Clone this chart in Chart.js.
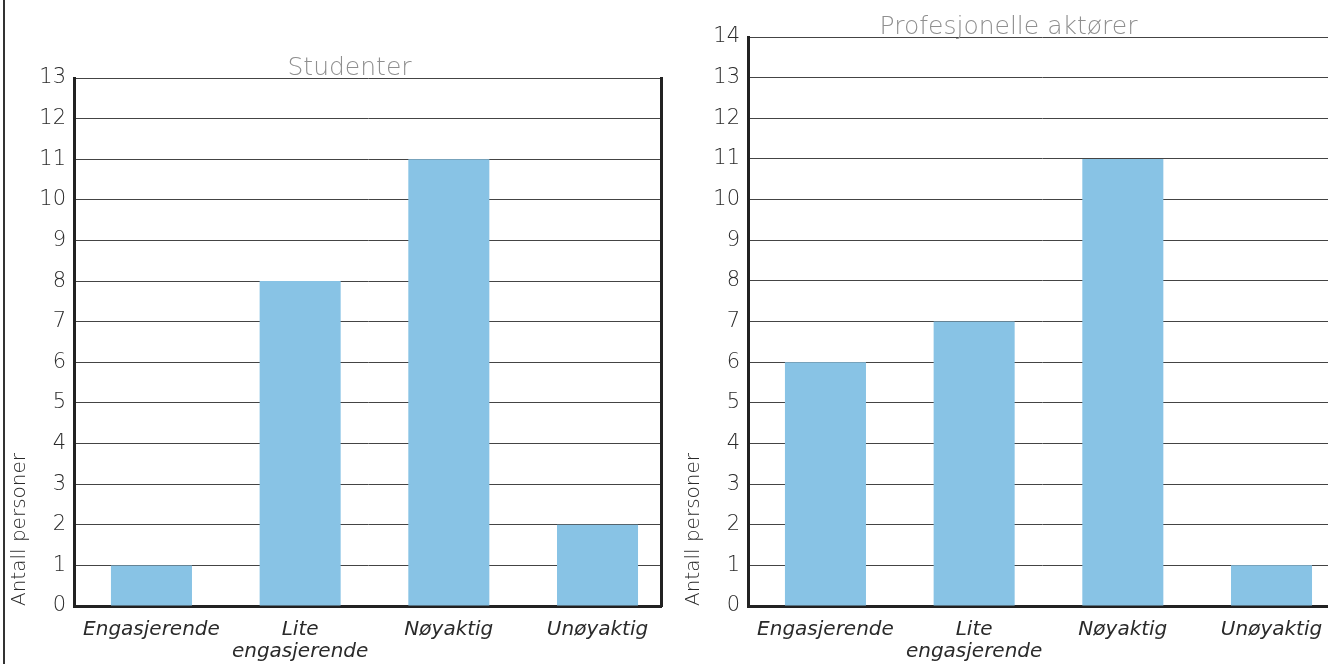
<!DOCTYPE html>
<html lang="no">
<head>
<meta charset="utf-8">
<title>Antall personer per vurdering</title>
<script src="https://cdn.jsdelivr.net/npm/chart.js@4/dist/chart.umd.min.js"></script>
<style>
  html, body { margin: 0; padding: 0; background: #fff; }
  body { width: 1328px; height: 664px; position: relative; overflow: hidden; }
  .frame { position: absolute; left: 3px; top: 0; width: 2px; height: 664px; background: #333; }
  canvas { position: absolute; top: 0; }
  #studenter { left: 0; }
  #profesjonelle { left: 674px; }
</style>
</head>
<body>
<div class="frame"></div>
<canvas id="studenter" width="680" height="664"></canvas>
<canvas id="profesjonelle" width="680" height="664"></canvas>
<script>
// Vurderingskategorier og antall svar per gruppe
const categories = ['Engasjerende', 'Lite engasjerende', 'Nøyaktig', 'Unøyaktig'];
const tickLabels = [['Engasjerende'], ['Lite', 'engasjerende'], ['Nøyaktig'], ['Unøyaktig']];
const studentCounts = [1, 8, 11, 2];
const professionalCounts = [6, 7, 11, 1];
const studentMax = 13;
const professionalMax = 14;
const axisTitle = 'Antall personer';

const FONT = "'DejaVu Sans', sans-serif";
const WEIGHT = 200;
const BAR_COLOR = '#88c3e5';
const INK = '#2a2a2a';

// Panel heading drawn just above the plot area
const panelTitle = {
  id: 'panelTitle',
  afterDraw(chart, args, opts) {
    const { ctx, chartArea } = chart;
    ctx.save();
    ctx.font = `${WEIGHT} ${opts.size}px ${FONT}`;
    ctx.fillStyle = opts.color;
    ctx.textAlign = 'center';
    ctx.textBaseline = 'alphabetic';
    ctx.fillText(opts.text, chartArea.left + opts.offsetX, chartArea.top - 3);
    ctx.restore();
  }
};

function makeChart(id, title, counts, yMax, top, titleOffset) {
  return new Chart(document.getElementById(id), {
    type: 'bar',
    data: {
      datasets: [{
        label: title,
        data: counts.map((v, i) => ({ x: i, y: v })),
        backgroundColor: BAR_COLOR,
        borderWidth: 0,
        barPercentage: 0.545,
        categoryPercentage: 1
      }]
    },
    options: {
      responsive: false,
      animation: false,
      layout: { padding: { top: top, right: 19, bottom: 0, left: 0 } },
      plugins: {
        legend: { display: false },
        tooltip: { enabled: false },
        panelTitle: { text: title, size: 25, color: '#8f8f8f', offsetX: titleOffset }
      },
      scales: {
        x: {
          type: 'linear',
          min: -0.521,
          max: 3.427,
          offset: false,
          afterBuildTicks: s => { s.ticks = categories.map((_, i) => ({ value: i })); },
          afterFit: s => { s.height = 58; },
          grid: { display: false, drawTicks: false },
          border: { display: true, width: 3, color: '#222' },
          ticks: {
            autoSkip: false,
            maxRotation: 0,
            padding: 13,
            color: INK,
            font: { family: FONT, size: 20, style: 'italic', weight: WEIGHT, lineHeight: 1.1 },
            callback: v => tickLabels[v]
          }
        },
        y: {
          min: 0,
          max: yMax,
          afterFit: s => { s.width = 74; },
          grid: { color: '#444', lineWidth: 1, drawTicks: false },
          border: { display: true, width: 3, color: '#222' },
          ticks: {
            stepSize: 1,
            padding: 8,
            color: INK,
            font: { family: FONT, size: 21, weight: WEIGHT }
          },
          title: {
            display: true,
            text: axisTitle,
            align: 'start',
            color: INK,
            padding: { top: 8, bottom: 0 },
            font: { family: FONT, size: 20, weight: WEIGHT }
          }
        },
        yRight: {
          position: 'right',
          min: 0,
          max: yMax,
          afterFit: s => { s.width = 0; },
          grid: { display: false, drawTicks: false },
          border: { display: true, width: 3, color: '#222' },
          ticks: { display: false }
        }
      }
    },
    plugins: [panelTitle]
  });
}

makeChart('studenter', 'Studenter', studentCounts, studentMax, 78, 275.5);
makeChart('profesjonelle', 'Profesjonelle aktører', professionalCounts, professionalMax, 37, 260.5);
</script>
</body>
</html>
